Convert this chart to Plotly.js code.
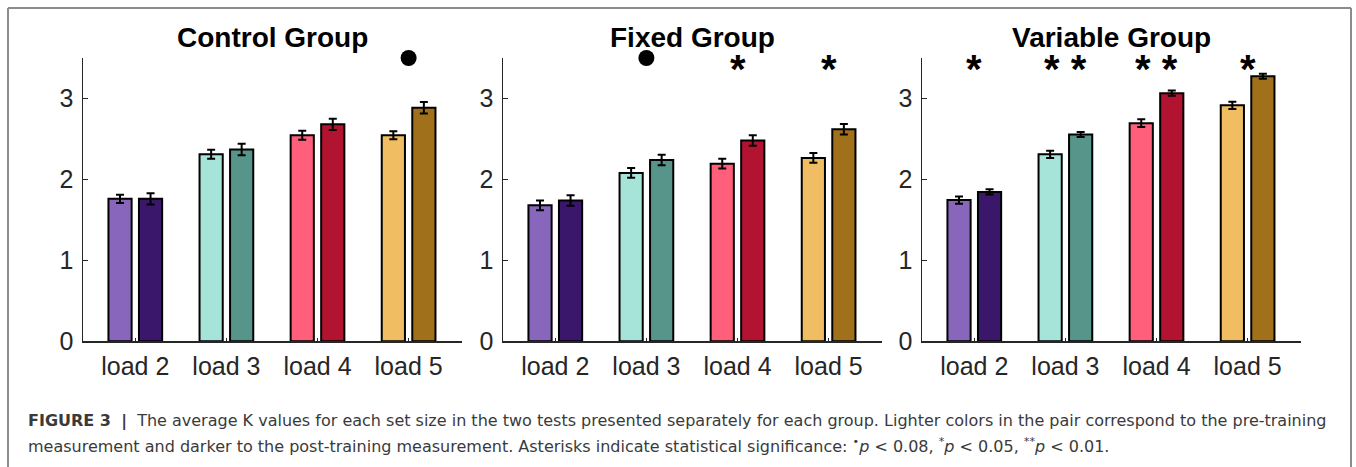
<!DOCTYPE html>
<html>
<head>
<meta charset="utf-8">
<script src="https://cdn.plot.ly/plotly-3.0.1.min.js"></script>
<style>html,body{margin:0;padding:0;background:#fff;}#chart{width:1356px;height:467px;}</style>
</head>
<body>
<div id="chart"></div>
<script>
// ---- data ----
const categories = ['load 2', 'load 3', 'load 4', 'load 5'];
const groupTitles = ['Control Group', 'Fixed Group', 'Variable Group'];

const controlPre = [1.76, 2.31, 2.545, 2.545];
const controlPost = [1.76, 2.37, 2.68, 2.885];
const controlPreErr = [0.05, 0.055, 0.055, 0.05];
const controlPostErr = [0.07, 0.07, 0.07, 0.07];

const fixedPre = [1.68, 2.08, 2.195, 2.265];
const fixedPost = [1.74, 2.24, 2.48, 2.62];
const fixedPreErr = [0.06, 0.06, 0.06, 0.06];
const fixedPostErr = [0.065, 0.065, 0.065, 0.065];

const variablePre = [1.745, 2.31, 2.695, 2.915];
const variablePost = [1.845, 2.555, 3.065, 3.275];
const variablePreErr = [0.045, 0.045, 0.048, 0.045];
const variablePostErr = [0.032, 0.03, 0.032, 0.03];

const controlSig = ['', '', '', '•'];
const fixedSig = ['', '•', '*', '*'];
const variableSig = ['*', '**', '**', '*'];

const yTicks = [0, 1, 2, 3];

// ---- style ----
const preColors = ['#8866BB', '#A6E3D9', '#FF5F7A', '#F0BD62'];
const postColors = ['#3B176B', '#57948A', '#B21330', '#A0701A'];
const axisColor = '#262626';
const W = 1356, H = 467;
const xDomains = [[83 / W, 462 / W], [503 / W, 882 / W], [922 / W, 1301 / W]];
const yDomain = [(H - 341.3) / H, (H - 58) / H];
const dotY = 3.5, starY = 3.46;

const groups = [
  {pre: controlPre, post: controlPost, preErr: controlPreErr, postErr: controlPostErr, sig: controlSig},
  {pre: fixedPre, post: fixedPost, preErr: fixedPreErr, postErr: fixedPostErr, sig: fixedSig},
  {pre: variablePre, post: variablePost, preErr: variablePreErr, postErr: variablePostErr, sig: variableSig}
];

const traces = [];
const annotations = [];
const layout = {
  width: W, height: H,
  margin: {l: 0, r: 0, t: 0, b: 0},
  paper_bgcolor: '#fff', plot_bgcolor: 'rgba(0,0,0,0)',
  showlegend: false,
  barmode: 'group', bargap: 0.33, bargroupgap: 0.24,
  font: {family: 'Liberation Sans, Arial, sans-serif', color: axisColor}
};

groups.forEach((g, i) => {
  const n = i === 0 ? '' : String(i + 1);
  const xa = 'x' + n, ya = 'y' + n;
  const errStyle = {type: 'data', color: '#000', thickness: 2, width: 4};
  traces.push({
    type: 'bar', x: categories, y: g.pre, xaxis: xa, yaxis: ya,
    marker: {color: preColors, line: {color: '#000', width: 2}},
    error_y: Object.assign({array: g.preErr}, errStyle), hoverinfo: 'y'
  });
  traces.push({
    type: 'bar', x: categories, y: g.post, xaxis: xa, yaxis: ya,
    marker: {color: postColors, line: {color: '#000', width: 2}},
    error_y: Object.assign({array: g.postErr}, errStyle), hoverinfo: 'y'
  });
  const dotX = categories.filter((c, k) => g.sig[k] === '•');
  traces.push({
    type: 'scatter', mode: 'markers', x: dotX, y: dotX.map(() => dotY),
    xaxis: xa, yaxis: ya, cliponaxis: false,
    marker: {color: '#000', size: 16, symbol: 'circle'},
    hoverinfo: 'skip'
  });
  categories.forEach((c, k) => {
    const s = g.sig[k];
    if (s && s !== '•') {
      annotations.push({
        xref: xa, yref: ya, x: c, y: starY, text: '<b>' + s.split('').join(' ') + '</b>',
        showarrow: false, xanchor: 'center', yanchor: 'middle', yshift: -8,
        font: {family: 'Liberation Sans, Arial, sans-serif', size: 40, color: '#000'}
      });
    }
  });
  layout['xaxis' + n] = {
    domain: xDomains[i], anchor: ya, type: 'category',
    range: [-0.574, 3.586], showline: true, linecolor: axisColor, linewidth: 1.5,
    ticks: 'inside', ticklen: 3, tickwidth: 1.5, tickcolor: axisColor,
    tickfont: {size: 25, color: axisColor, family: 'Liberation Sans, Arial, sans-serif'},
    ticklabelstandoff: 2, showgrid: false, zeroline: false, fixedrange: true
  };
  layout['yaxis' + n] = {
    domain: yDomain, anchor: xa, range: [0, 3.5],
    tickvals: yTicks, ticktext: yTicks.map(String),
    showline: true, linecolor: axisColor, linewidth: 1.5,
    ticks: 'inside', ticklen: 5, tickwidth: 1.5, tickcolor: axisColor,
    tickfont: {size: 25, color: axisColor, family: 'Liberation Sans, Arial, sans-serif'},
    ticklabelstandoff: 3, showgrid: false, zeroline: false, fixedrange: true
  };
  annotations.push({
    xref: 'paper', yref: 'paper', x: (xDomains[i][0] + xDomains[i][1]) / 2, y: (H - 38) / H,
    text: '<b>' + groupTitles[i] + '</b>', showarrow: false, xanchor: 'center', yanchor: 'middle',
    font: {family: 'Liberation Sans, Arial, sans-serif', size: 28, color: '#000'}
  });
});

// caption
const captionLine1 = '<b>FIGURE 3</b>  <b>|</b>  The average K values for each set size in the two tests presented separately for each group. Lighter colors in the pair correspond to the pre-training';
const captionLine2 = 'measurement and darker to the post-training measurement. Asterisks indicate statistical significance: <sup>•</sup><i>p</i> &lt; 0.08, <sup>*</sup><i>p</i> &lt; 0.05, <sup>**</sup><i>p</i> &lt; 0.01.';
[captionLine1, captionLine2].forEach((t, k) => {
  annotations.push({
    xref: 'paper', yref: 'paper', x: 26 / W, y: (H - (421 + k * 24.5)) / H,
    text: t, showarrow: false, xanchor: 'left', yanchor: 'middle', align: 'left',
    font: {family: 'DejaVu Sans, sans-serif', size: 16, color: '#3a3a3a'}
  });
});
layout.annotations = annotations;

// outer frame
const fx0 = 8 / W, fx1 = 1351 / W, fy1 = (H - 8) / H;
const frame = {color: '#8c8c8c', width: 2};
layout.shapes = [
  {type: 'line', xref: 'paper', yref: 'paper', x0: fx0, x1: fx0, y0: -0.05, y1: fy1, line: frame},
  {type: 'line', xref: 'paper', yref: 'paper', x0: fx0, x1: fx1, y0: fy1, y1: fy1, line: frame},
  {type: 'line', xref: 'paper', yref: 'paper', x0: fx1, x1: fx1, y0: -0.05, y1: fy1, line: frame}
];

Plotly.newPlot('chart', traces, layout, {displayModeBar: false, staticPlot: true});
</script>
</body>
</html>
